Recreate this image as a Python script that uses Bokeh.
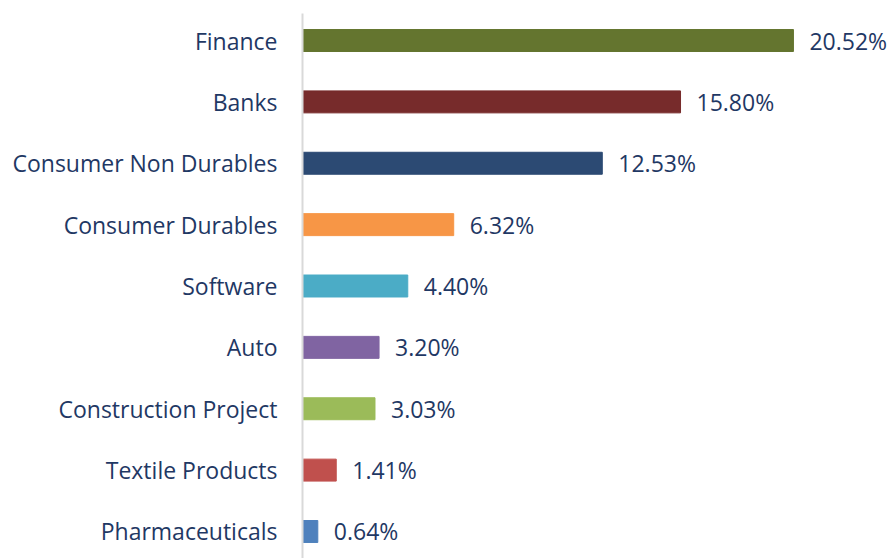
from bokeh.plotting import figure
from bokeh.models import FactorRange, Range1d, ColumnDataSource
from bokeh.embed import file_html
from bokeh.resources import INLINE

categories = ["Finance", "Banks", "Consumer Non Durables", "Consumer Durables", "Software",
              "Auto", "Construction Project", "Textile Products", "Pharmaceuticals"]
values = [20.52, 15.80, 12.53, 6.32, 4.40, 3.20, 3.03, 1.41, 0.64]
colors = ["#64752f", "#772b2b", "#2c4a73", "#f79646", "#4bacc6",
          "#8064a2", "#9bbb59", "#c0504d", "#4f81bd"]
labels = ["%.2f%%" % v for v in values]

FONT = "Open Sans"
TEXT_COLOR = "#1f3864"

src = ColumnDataSource(dict(cat=categories, val=values, color=colors, label=labels))

factors = list(reversed(categories))
p = figure(width=892, height=558, output_backend="svg", toolbar_location=None,
           y_range=FactorRange(factors=factors, range_padding=-0.06, range_padding_units="absolute"),
           x_range=Range1d(0, 24.66),
           min_border_left=302, min_border_right=0, min_border_top=13, min_border_bottom=0)

p.hbar(y="cat", right="val", left=0, height=0.358, color="color", source=src)
p.text(x="val", y="cat", text="label", source=src, x_offset=16,
       text_align="left", text_baseline="middle", text_font_size="23px",
       text_font={"value": FONT}, text_color=TEXT_COLOR)

p.xaxis.visible = False
p.xgrid.visible = False
p.ygrid.visible = False
p.outline_line_color = None

ya = p.yaxis[0]
ya.axis_line_color = "#d9d9d9"
ya.axis_line_width = 2
ya.major_tick_line_color = None
ya.minor_tick_line_color = None
ya.major_tick_out = 0
ya.major_label_standoff = 25
ya.major_label_text_font = FONT
ya.major_label_text_font_size = "23px"
ya.major_label_text_color = TEXT_COLOR

open("out.html", "w").write(file_html(p, INLINE))
